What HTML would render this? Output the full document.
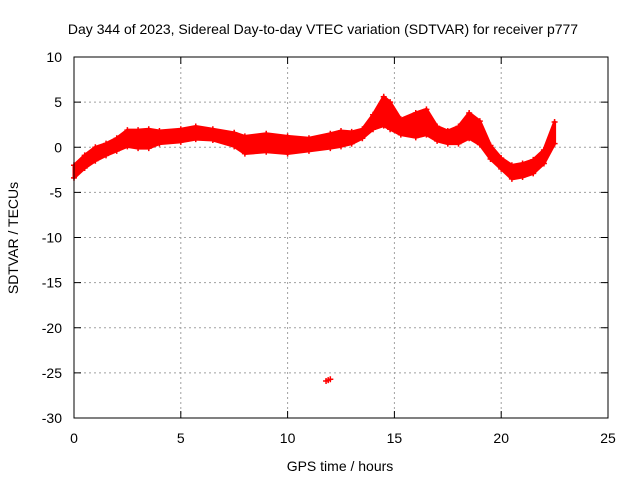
<!DOCTYPE html>
<html><head><meta charset="utf-8"><style>
body{margin:0;background:#fff}
svg text{font-family:"Liberation Sans",sans-serif;font-size:14px;fill:#000}
</style></head><body>
<svg id="c" width="640" height="480" xmlns="http://www.w3.org/2000/svg">
<rect width="640" height="480" fill="#fff"/>
<text x="323" y="34" text-anchor="middle">Day 344 of 2023, Sidereal Day-to-day VTEC variation (SDTVAR) for receiver p777</text>
<text x="340" y="471" text-anchor="middle">GPS time / hours</text>
<text transform="translate(18,238) rotate(-90)" text-anchor="middle">SDTVAR / TECUs</text>
<g id="grid"></g><g id="data"></g>
<rect x="74" y="57" width="534" height="361" fill="none" stroke="#000"/>
<g id="ticks"></g>
</svg>
<script>
const hours=[0,0.5,1,1.5,2,2.5,3,3.5,4,5,5.7,6.5,7.5,8,9,10,11,12,12.5,13,13.5,14,14.5,14.8,15.3,16,16.5,17,17.5,18,18.5,19,19.5,20,20.5,21,21.5,22,22.5];
const hiVals=[-2,-0.9,0,0.4,1,1.9,1.9,2.0,1.8,2.0,2.3,2.0,1.6,1.2,1.5,1.2,1.0,1.5,1.8,1.7,2.0,3.6,5.6,5.0,3.1,3.8,4.2,2.3,1.8,2.3,3.8,2.9,0.2,-1.2,-2,-1.8,-1.4,-0.3,2.8];
const loVals=[-3.4,-2.3,-1.5,-0.9,-0.4,0.1,-0.1,-0.1,0.4,0.6,0.9,0.8,0.1,-0.7,-0.5,-0.7,-0.4,-0.1,0.1,0.4,1.0,2.0,2.4,2.0,1.4,1.1,1.4,0.7,0.4,0.4,1.0,0.3,-1.3,-2.4,-3.5,-3.3,-2.9,-1.8,0.4];
const outlierH=[11.9], outlierV=[-25.8];
const xTicks=[0,5,10,15,20,25], yTicks=[10,5,0,-5,-10,-15,-20,-25,-30];
const X=h=>74+h*534/25, Y=v=>57+(10-v)*361/40;
const NS="http://www.w3.org/2000/svg";
const grid=document.getElementById('grid'),tk=document.getElementById('ticks'),dg=document.getElementById('data');
function mk(t,a,p){const e=document.createElementNS(NS,t);for(const k in a)e.setAttribute(k,a[k]);p.appendChild(e);return e;}
xTicks.forEach(t=>{
 const x=X(t);
 if(t>0&&t<25){const g=mk('line',{x1:x,x2:x,y1:57,y2:418,stroke:'#a0a0a0','stroke-dasharray':'2,3'},grid);
 
 }
 mk('line',{x1:x,x2:x,y1:418,y2:411,stroke:'#000'},tk);mk('line',{x1:x,x2:x,y1:57,y2:64,stroke:'#000'},tk);
 const l=mk('text',{x:x,y:443,'text-anchor':'middle'},tk);l.textContent=t;
 
 
});
yTicks.forEach(t=>{
 const y=Y(t);
 if(t<10&&t>-30){const g=mk('line',{x1:74,x2:608,y1:y,y2:y,stroke:'#a0a0a0','stroke-dasharray':'2,3'},grid);
 
 }
 mk('line',{x1:74,x2:81,y1:y,y2:y,stroke:'#000'},tk);mk('line',{x1:608,x2:601,y1:y,y2:y,stroke:'#000'},tk);
 const l=mk('text',{x:62,y:y+5,'text-anchor':'end'},tk);l.textContent=t;
 
 
});
let pts=hours.map((h,i)=>X(h)+','+Y(hiVals[i]));
for(let i=hours.length-1;i>=0;i--)pts.push(X(hours[i])+','+Y(loVals[i]));
const band=mk('polygon',{points:pts.join(' '),fill:'#f00',stroke:'#f00','stroke-width':3,'stroke-linejoin':'round'},dg);


function plus(h,v){const x=X(h),y=Y(v);const p=mk('path',{d:`M${x-3},${y}h6M${x},${y-3}v6`,stroke:'#f00','stroke-width':1.5},dg);
 
 }
hours.forEach((h,i)=>{plus(h,hiVals[i]);plus(h,loVals[i]);});
outlierH.forEach((h,i)=>{plus(h-0.1,outlierV[i]-0.1);plus(h,outlierV[i]);plus(h+0.1,outlierV[i]+0.1);});
</script>
</body></html>
